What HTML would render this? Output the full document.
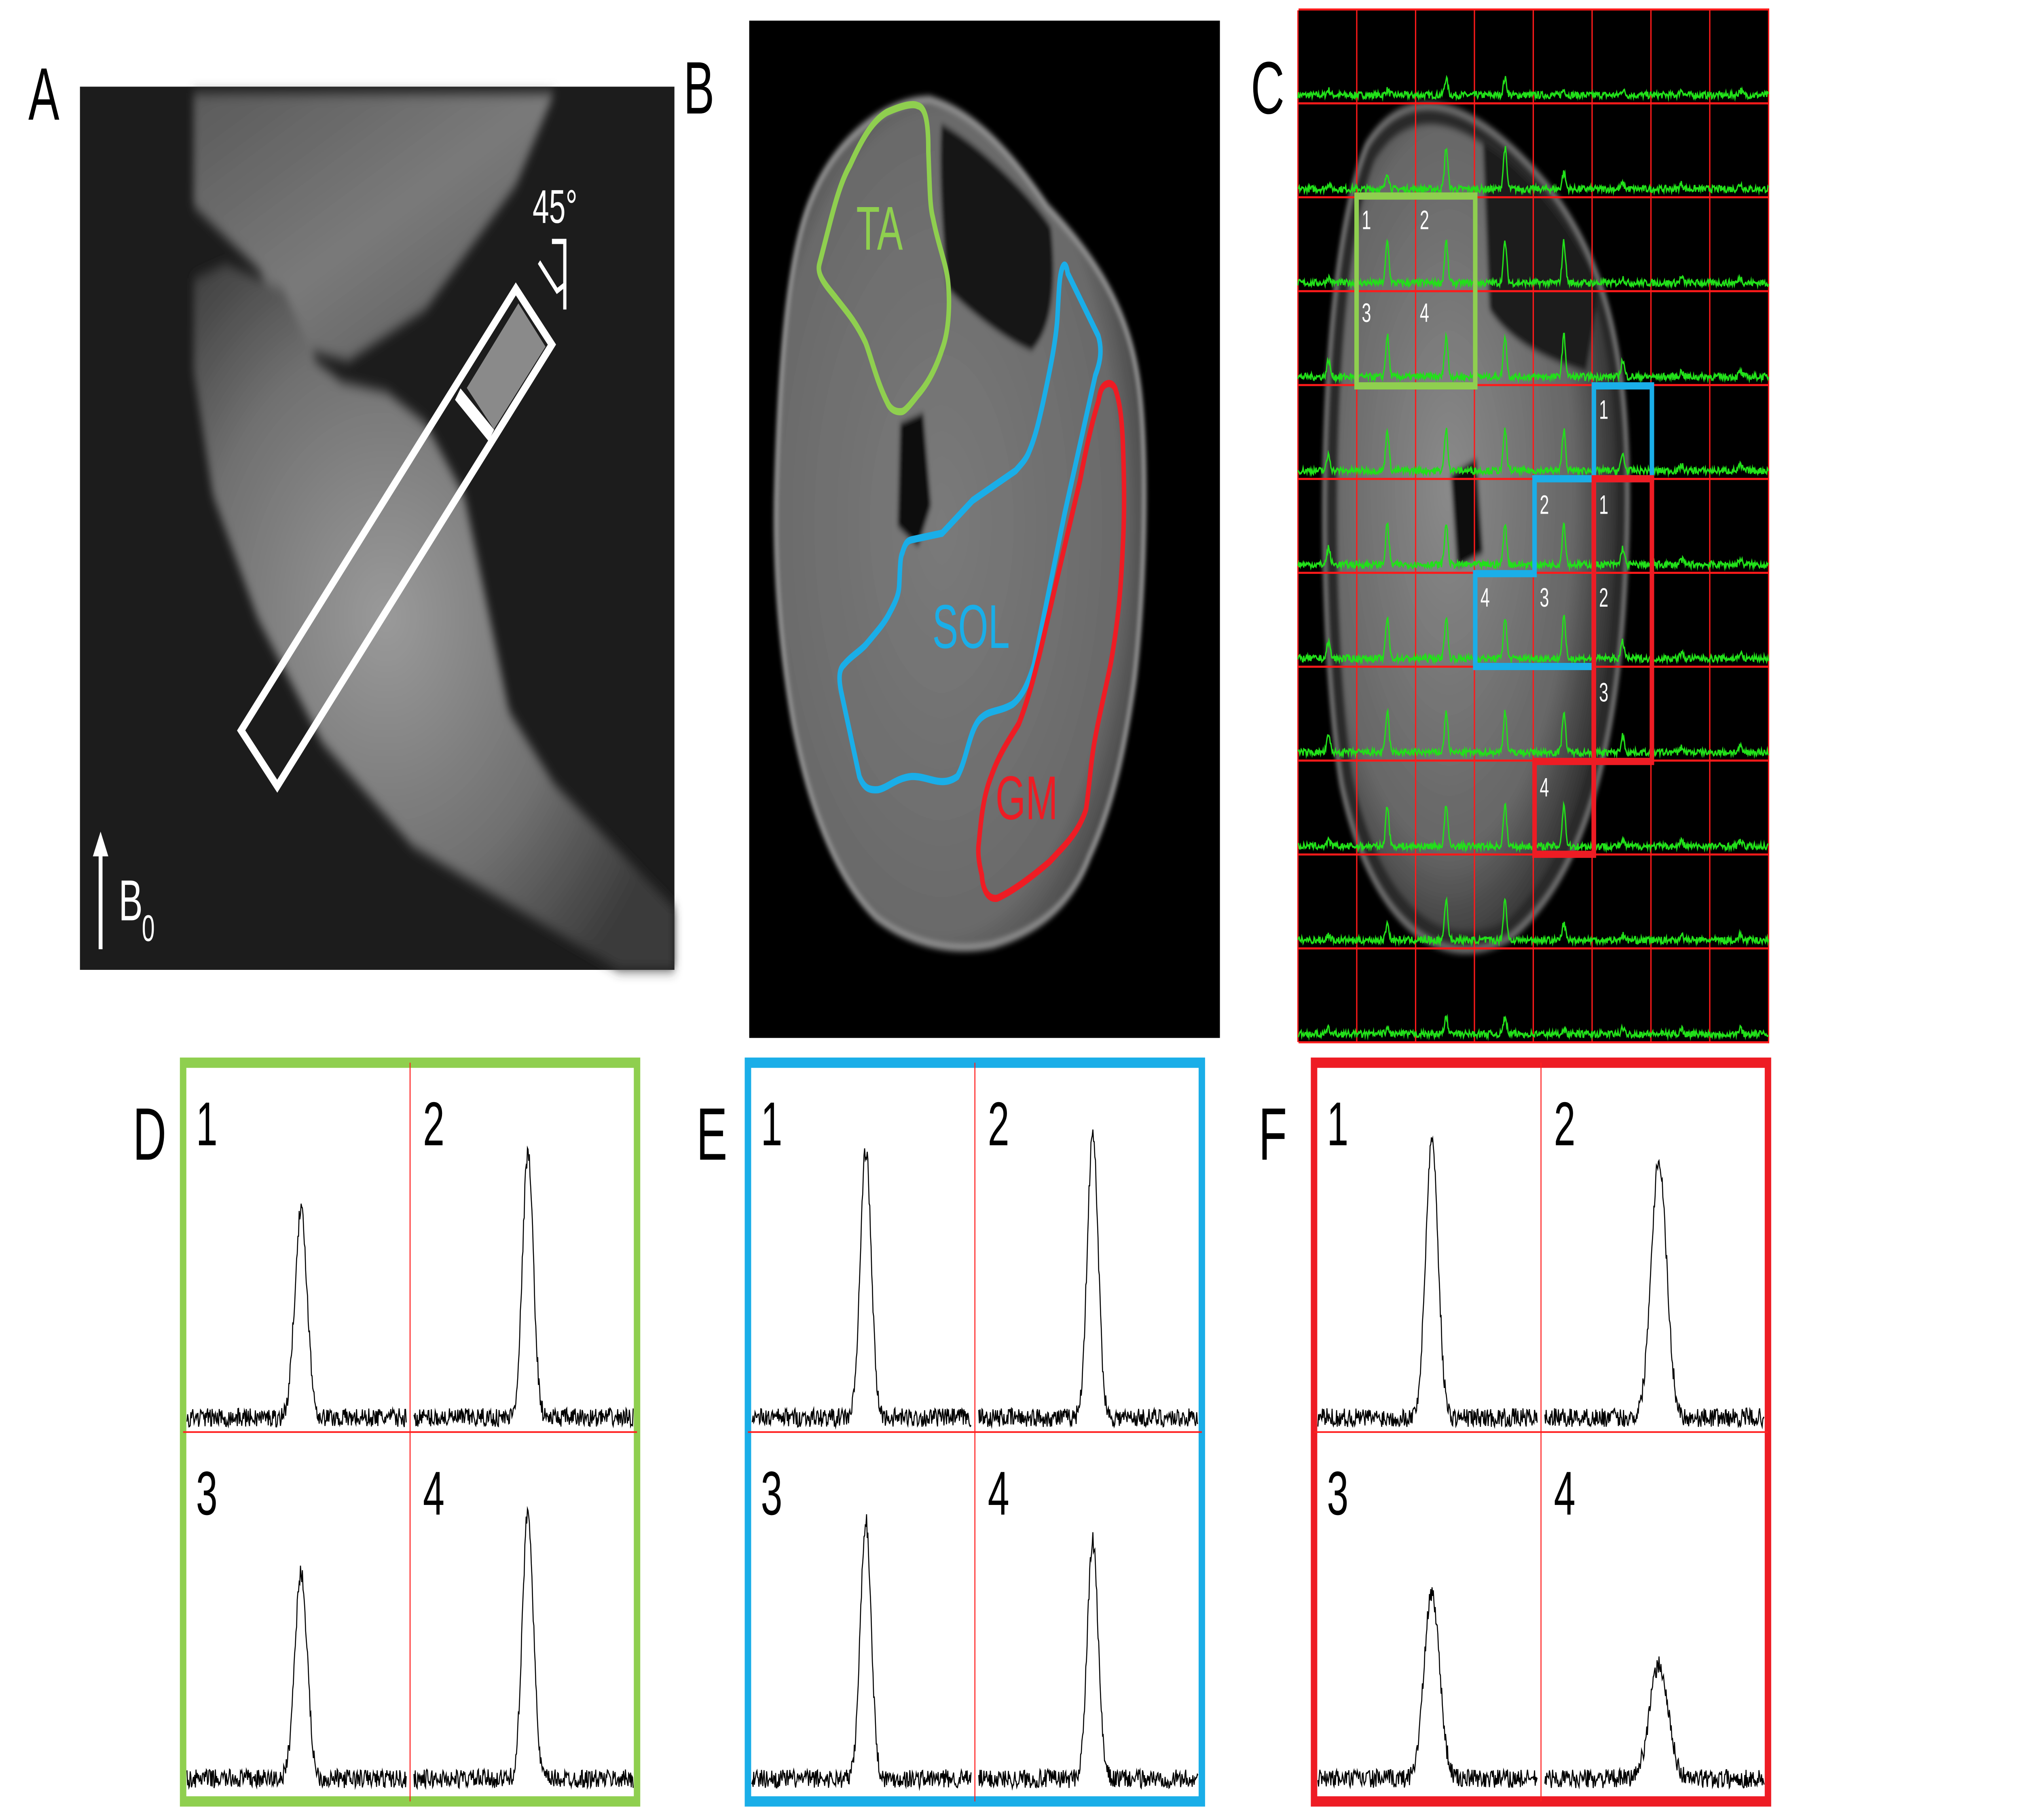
<!DOCTYPE html>
<html><head><meta charset="utf-8"><style>
html,body{margin:0;padding:0;background:#fff;width:100%;height:100%;overflow:hidden}
svg{display:block;width:100vw;height:100vh}
text{font-family:"Liberation Sans","DejaVu Sans",sans-serif}
</style></head><body>
<svg id="s" viewBox="0 0 1568 882" preserveAspectRatio="none" xmlns="http://www.w3.org/2000/svg">
<defs>
<radialGradient id="gA" cx="0.4" cy="0.5" r="0.65"><stop offset="0" stop-color="#9a9a9a"/><stop offset="0.6" stop-color="#707070"/><stop offset="1" stop-color="#3a3a3a"/></radialGradient>
<linearGradient id="gT" x1="0" y1="0" x2="1" y2="1"><stop offset="0" stop-color="#5a5a5a"/><stop offset="0.5" stop-color="#7a7a7a"/><stop offset="1" stop-color="#555"/></linearGradient>
<radialGradient id="gB" cx="0.45" cy="0.5" r="0.6"><stop offset="0" stop-color="#7a7a7a"/><stop offset="0.8" stop-color="#6a6a6a"/><stop offset="1" stop-color="#3a3a3a"/></radialGradient>
<radialGradient id="gC" cx="0.4" cy="0.45" r="0.6"><stop offset="0" stop-color="#8a8a8a"/><stop offset="0.75" stop-color="#666"/><stop offset="1" stop-color="#333"/></radialGradient>
<filter id="bl"><feGaussianBlur stdDeviation="3"/></filter>
<filter id="bl2"><feGaussianBlur stdDeviation="1.5"/></filter>
</defs>

<!-- Panel A -->
<text x="22" y="58" font-size="36">A</text>
<rect x="62" y="42" width="461" height="428" fill="#1c1c1c"/>
<g filter="url(#bl)">
<polygon points="150,45 430,45 400,90 330,150 270,175 240,170 200,130 150,100" fill="url(#gT)"/>
<path d="M150,135 L175,128 L220,140 L245,175 L265,185 L300,190 L330,205 L360,240 L375,285 L395,345 L430,380 L523,440 L523,470 L480,470 L400,440 L320,410 L250,360 L200,300 L165,240 L150,180 Z" fill="url(#gA)"/>
</g>
<g fill="none" stroke="#fff" stroke-width="4.5">
<polygon points="187,354 215,381 428,167 400,140"/>
<line x1="355" y1="191" x2="381" y2="211" stroke-width="7"/>
</g>
<polygon points="362,188 402,147 423,168 383,208" fill="#8a8a8a"/>
<text x="413" y="108" font-size="23" fill="#fff">45°</text>
<path d="M428,117 H438 V150 M418,127 L432,141 L438,138" stroke="#fff" stroke-width="2.5" fill="none"/>
<line x1="78" y1="460" x2="78" y2="412" stroke="#fff" stroke-width="3"/>
<polygon points="72,415 84,415 78,403" fill="#fff"/>
<text x="92" y="446" font-size="28" fill="#fff">B</text>
<text x="110" y="456" font-size="18" fill="#fff">0</text>

<!-- Panel B -->
<text x="530" y="55" font-size="36">B</text>
<rect x="581" y="10" width="365" height="493" fill="#000"/>
<g filter="url(#bl2)">
<path d="M602,233 C605,170 612,120 630,95 C650,65 690,48 721,48 C760,55 790,80 812,100 C850,125 875,150 883,185 C890,215 889,280 880,329 C872,365 862,392 845,415 C830,440 802,452 770,458 C740,462 707,458 680,445 C655,430 630,400 615,350 C604,310 600,270 602,233 Z" fill="url(#gB)" stroke="#999" stroke-width="3"/>
<path d="M730,60 C760,70 800,95 815,110 C820,140 815,160 800,170 C780,165 750,150 735,140 C730,110 728,80 730,60 Z" fill="#151515"/>
<path d="M698,205 L716,200 L722,245 L712,265 L696,255 Z" fill="#080808"/>
</g>
<path d="M635.5,127.7 C645,105 650,90 659.3,79.9 C670,65 678,58 687.8,54.4 C700,51 708,50 711.6,51.2 C718,52 720,60 719.9,73.5 C721,90 721,100 723.4,105.4 C728,120 734,128 735.3,137.3 C737,150 735,162 730.6,169.2 C725,180 718,187 711.6,191.5 C706,196 702,199 699.7,199.4 C694,200 690,198 687.8,194.7 C680,185 675,172 671.2,166 C663,155 655,150 647.4,143.7 C640,138 633,133 635.5,127.7 Z" fill="none" stroke="#8fcf4f" stroke-width="3.5"/>
<text x="664" y="121" font-size="30" fill="#8fcf4f">TA</text>
<path d="M823.2,130.9 C825,127 827,128 828,132.5 L851.7,162.8 C855,170 853,176 849.4,181.9 L825.6,248.8 L801.8,322.1 C797,332 792,338 785.2,341.3 C775,345 768,344 761.4,347.6 C752,352 750,368 742.4,376.3 C730,382 720,376 706.8,376.3 C695,377 688,382 680.7,382.7 C674,383 670,382 666.4,376.3 L652.2,334.9 C650,328 651,324 654.5,322.1 C660,318 666,316 671.2,312.6 C680,306 686,302 690.2,296.6 C696,290 697,287 697.3,283.9 C698,275 698,270 699.7,268 C702,263 704,262 706.8,261.6 L730.6,258.4 L754.3,242.5 L787.6,228.1 C792,225 795,223 797.1,220.2 C803,212 806,203 809,194.6 C814,180 818,168 819.7,156.4 C821,145 821,136 823.2,130.9 Z" fill="none" stroke="#1aaee8" stroke-width="3.5"/>
<text x="723" y="314" font-size="30" fill="#1aaee8">SOL</text>
<path d="M856.5,186.7 C860,185 863,186 864.8,188.3 C869,196 870,205 870.7,213.8 C872,235 872,250 870.7,264.8 C869,290 866,305 861.2,322.1 C857,335 853,345 849.4,357.2 C846,368 845,380 842.2,392.2 C836,404 825,410 813.7,417.7 C800,425 785,432 773.3,435.3 C766,436 762,431 761.4,424.1 C759,418 758,413 759.1,408.2 C761,395 763,385 768.6,376.3 C775,365 783,358 790,350.8 C800,335 807,315 813.7,296.6 L837.5,232.9 C842,218 847,204 851.7,194.7 C853,190 854,188 856.5,186.7 Z" fill="none" stroke="#ee1c24" stroke-width="3.5"/>
<text x="772" y="397" font-size="30" fill="#ee1c24">GM</text>

<!-- Panel C -->
<text x="970" y="55" font-size="36">C</text>
<rect x="1007" y="5" width="365" height="500" fill="#000"/>
<g filter="url(#bl2)">
<path d="M1060,70 C1090,40 1140,45 1200,90 C1250,130 1265,180 1262,260 C1258,340 1240,420 1170,455 C1110,475 1060,440 1040,380 C1020,300 1020,130 1060,70 Z" fill="#2a2a2a" stroke="#777" stroke-width="3"/>
<path d="M1066,78 C1093,50 1140,55 1196,98 C1244,135 1256,185 1253,260 C1249,335 1232,410 1168,446 C1112,464 1068,432 1049,376 C1031,300 1031,135 1066,78 Z" fill="url(#gC)"/>
<path d="M1150,70 C1180,80 1220,110 1240,140 L1230,180 C1200,175 1170,165 1155,150 Z" fill="#1a1a1a"/>
<path d="M1125,230 L1145,222 L1150,268 L1130,275 Z" fill="#111"/>
</g>
<g id="grid" stroke="#ff1a1a" stroke-width="1"></g>
<g id="specC" fill="none" stroke="#22e01a" stroke-width="1"></g>
<g fill="none" stroke-width="3.5">
<rect x="1052" y="95" width="92" height="92" stroke="#8fcf4f"/>
<path d="M1236,187 H1281 V232 H1236 Z M1190,232 H1236 V323 H1144 V278 H1190 Z" stroke="#1aaee8"/>
<path d="M1236,232 H1281 V369 H1236 V414 H1190 V369 H1236 Z" stroke="#ee1c24"/>
</g>
<g font-size="13" fill="#fff">
<text x="1056" y="111">1</text><text x="1101" y="111">2</text><text x="1056" y="156">3</text><text x="1101" y="156">4</text>
<text x="1240" y="203">1</text><text x="1194" y="249">2</text><text x="1194" y="294">3</text><text x="1148" y="294">4</text>
<text x="1240" y="249">1</text><text x="1240" y="294">2</text><text x="1240" y="340">3</text><text x="1194" y="386">4</text>
</g>

<!-- Panels D E F -->
<text x="103" y="562" font-size="36">D</text>
<text x="540" y="562" font-size="36">E</text>
<text x="976" y="562" font-size="36">F</text>
<g id="panels"></g>
</svg>
<script>
var NS="http://www.w3.org/2000/svg";
var seed=7;function rnd(){seed=(seed*16807)%2147483647;return seed/2147483647;}
function mk(tag,attrs,parent){var e=document.createElementNS(NS,tag);for(var k in attrs)e.setAttribute(k,attrs[k]);parent.appendChild(e);return e;}
function spec(x0,w,base,amp,noise,pw){var d="";var n=Math.round(w*2);for(var i=0;i<=n;i++){var x=x0+w*i/n;var t=(i/n-0.52)/pw;var y=base-amp*Math.exp(-t*t)-(rnd()-0.5)*noise*2;d+=(i?"L":"M")+x.toFixed(2)+","+y.toFixed(2);}return d;}
var g=document.getElementById("grid");
for(var i=0;i<=8;i++){var x=1006.5+45.625*i;mk("line",{x1:x,y1:5,x2:x,y2:505},g);}
for(var j=0;j<=11;j++){var y=4.6+45.5*j;mk("line",{x1:1007,y1:y,x2:1372,y2:y},g);}
var sc=document.getElementById("specC");
for(var j=1;j<=11;j++){var base=4.6+45.5*j-4;var d="";
 for(var i=0;i<8;i++){var cx=1006.5+45.625*(i+0.5),cy=base-20;var dx=(cx-1142)/118,dy=(cy-256)/207;var r=dx*dx+dy*dy;var amp=r<0.85?20:(r<1.3?8:2.5);
  d+=spec(1006.5+45.625*i,45.625,base,amp,1.6,0.04).replace(/^M/,i?"L":"M");}
 mk("path",{d:d},sc);}
var P=document.getElementById("panels");
var cfg=[[142,"#8fcf4f",[[100,0.04],[128,0.035],[100,0.04],[130,0.035]]],[580,"#1aaee8",[[130,0.035],[137,0.035],[125,0.035],[115,0.035]]],[1019,"#ee1c24",[[135,0.04],[125,0.05],[90,0.05],[55,0.06]]]];
cfg.forEach(function(c){var x0=c[0],w=352,y0=515,h=358;
 mk("rect",{x:x0,y:y0,width:w,height:h,fill:"#fff",stroke:c[1],"stroke-width":5},P);
 mk("line",{x1:x0+w/2,y1:y0,x2:x0+w/2,y2:y0+h,stroke:"#ff2020","stroke-width":0.8},P);
 mk("line",{x1:x0,y1:694,x2:x0+w,y2:694,stroke:"#ff2020","stroke-width":0.8},P);
 for(var k=0;k<4;k++){var cx=x0+(k%2)*w/2,cy=k<2?y0:694;
  var t=mk("text",{x:cx+10,y:cy+40,"font-size":30},P);t.textContent=String(k+1);
  mk("path",{d:spec(cx+3,w/2-6,cy+(k<2?172:168),c[2][k][0],4.5,c[2][k][1]),fill:"none",stroke:"#000","stroke-width":0.8},P);}
});
</script>
</body></html>
